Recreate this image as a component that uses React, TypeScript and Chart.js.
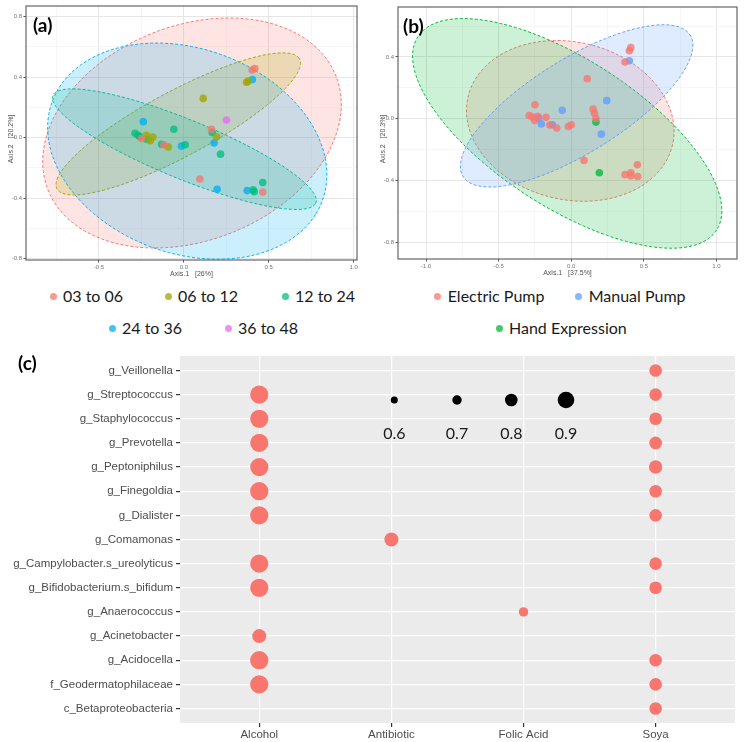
import React, { useEffect, useRef } from 'react';
import { Chart, registerables } from 'chart.js';
Chart.register(...registerables);

// ---------------- Panel (a): PCoA coloured by infant age ----------------
const ageGroups = ['03 to 06', '06 to 12', '12 to 24', '24 to 36', '36 to 48'];
const age03to06 = [[0.402, 0.447], [0.418, 0.456], [0.163, 0.055], [0.094, -0.274], [0.465, -0.36], [-0.118, -0.048], [-0.249, -0.007]];
const age06to12 = [[0.369, 0.366], [0.379, 0.373], [0.114, 0.259], [0.192, 0.004], [-0.092, -0.062], [-0.22, 0.015], [-0.198, -0.022], [-0.182, 0.004]];
const age12to24 = [[0.167, 0.033], [0.216, -0.11], [0.408, -0.345], [0.414, -0.358], [0.465, -0.297], [-0.059, 0.055], [0.008, -0.048], [-0.131, -0.044], [-0.288, 0.028], [-0.269, 0.015], [-0.22, -0.011], [-0.259, 0.005]];
const age24to36 = [[0.404, 0.384], [0.178, -0.036], [0.196, -0.342], [0.373, -0.351], [-0.239, 0.105], [-0.014, -0.057]];
const age36to48 = [[0.251, 0.116]];
// confidence ellipses: [centreX, centreY, semiMajor, semiMinor, angleDeg]
const ellipseAge03to06 = [0.048, 0.03, 0.932, 0.695, 29.8];
const ellipseAge06to12 = [-0.033, 0.09, 0.834, 0.21, 31.4];
const ellipseAge12to24 = [0.003, -0.077, 0.852, 0.192, -24.9];
const ellipseAge24to36 = [0.02, -0.09, 0.864, 0.664, -28.6];
const xMajorA = [-0.5, 0, 0.5, 1.0];
const xMinorA = [-0.75, -0.25, 0.25, 0.75];
const yMajorA = [-0.8, -0.4, 0, 0.4, 0.8];
const yMinorA = [-0.6, -0.2, 0.2, 0.6];
const xRangeA = [-0.93, 1.02];
const yRangeA = [-0.81, 0.87];
const xTitleA = 'Axis.1   [26%]';
const yTitleA = 'Axis.2   [20.2%]';

// ---------------- Panel (b): PCoA coloured by expression method ----------------
const methodGroups = ['Electric Pump', 'Manual Pump', 'Hand Expression'];
const electricPump = [[0.41, 0.46], [0.40, 0.44], [0.37, 0.367], [0.11, 0.259], [0.15, 0.062], [0.16, 0.036], [0.17, 0.002], [-0.25, 0.09], [-0.29, 0.021], [-0.268, 0.011], [-0.252, -0.011], [-0.23, 0.015], [-0.174, 0.009], [-0.147, -0.041], [-0.1, -0.06], [-0.02, -0.05], [0.0, -0.039], [0.088, -0.27], [0.37, -0.362], [0.41, -0.35], [0.41, -0.37], [0.455, -0.298], [0.457, -0.374]];
const manualPump = [[0.40, 0.375], [0.244, 0.117], [0.207, -0.1], [-0.062, 0.054], [-0.225, 0.002], [-0.206, -0.034], [-0.129, -0.039]];
const handExpression = [[0.17, -0.022], [0.193, -0.35]];
const ellipseElectric = [-0.007, -0.014, 0.721, 0.511, -11];
const ellipseHand = [-0.028, -0.095, 1.204, 0.486, -30.7];
const ellipseManual = [0.037, 0.083, 0.906, 0.309, 29.9];
const xMajorB = [-1.0, -0.5, 0, 0.5, 1.0];
const xMinorB = [-0.75, -0.25, 0.25, 0.75];
const yMajorB = [-0.8, -0.4, 0, 0.4];
const yMinorB = [-0.6, -0.2, 0.2, 0.6];
const xRangeB = [-1.193, 1.141];
const yRangeB = [-0.908, 0.723];
const xTitleB = 'Axis.1   [37.5%]';
const yTitleB = 'Axis.2   [20.3%]';

// ---------------- Panel (c): taxa associated with exposures ----------------
const taxa = ['g_Veillonella', 'g_Streptococcus', 'g_Staphylococcus', 'g_Prevotella', 'g_Peptoniphilus', 'g_Finegoldia', 'g_Dialister', 'g_Comamonas', 'g_Campylobacter.s_ureolyticus', 'g_Bifidobacterium.s_bifidum', 'g_Anaerococcus', 'g_Acinetobacter', 'g_Acidocella', 'f_Geodermatophilaceae', 'c_Betaproteobacteria'];
const exposures = ['Alcohol', 'Antibiotic', 'Folic Acid', 'Soya'];
const alcoholAssoc: [string, number][] = [['g_Streptococcus', 0.94], ['g_Staphylococcus', 0.94], ['g_Prevotella', 0.94], ['g_Peptoniphilus', 0.94], ['g_Finegoldia', 0.94], ['g_Dialister', 0.94], ['g_Campylobacter.s_ureolyticus', 0.94], ['g_Bifidobacterium.s_bifidum', 0.94], ['g_Acinetobacter', 0.835], ['g_Acidocella', 0.94], ['f_Geodermatophilaceae', 0.94]];
const antibioticAssoc: [string, number][] = [['g_Comamonas', 0.835]];
const folicAcidAssoc: [string, number][] = [['g_Anaerococcus', 0.7]];
const soyaAssoc: [string, number][] = [['g_Veillonella', 0.8], ['g_Streptococcus', 0.8], ['g_Staphylococcus', 0.8], ['g_Prevotella', 0.8], ['g_Peptoniphilus', 0.82], ['g_Finegoldia', 0.8], ['g_Dialister', 0.8], ['g_Campylobacter.s_ureolyticus', 0.8], ['g_Bifidobacterium.s_bifidum', 0.8], ['g_Acidocella', 0.8], ['f_Geodermatophilaceae', 0.8], ['c_Betaproteobacteria', 0.8]];
const sizeBreaks = [0.6, 0.7, 0.8, 0.9];

// ---------------- styling ----------------
const ageColors = ['#F8766D', '#A3A500', '#00BF7D', '#00B0F6', '#E76BF3'];
const methodColors = ['#F8766D', '#619CFF', '#00BA38'];
const sizeRadii = [3.5, 4.7, 6.3, 8.3];
const LEGEND_FONT = 'Lato, "Open Sans", sans-serif';

function rgba(hex: string, a: number) {
  const n = parseInt(hex.slice(1), 16);
  return `rgba(${(n >> 16) & 255},${(n >> 8) & 255},${n & 255},${a})`;
}
function radiusFor(v: number) {
  const b = sizeBreaks, r = sizeRadii;
  let i = 0;
  while (i < b.length - 2 && v > b[i + 1]) i++;
  return r[i] + ((v - b[i]) / (b[i + 1] - b[i])) * (r[i + 1] - r[i]);
}
const near = (v: number, arr: number[]) => arr.some((m) => Math.abs(m - v) < 1e-9);

function makeEllipsePlugin(items: { p: number[]; color: string }[]) {
  return {
    id: 'ellipses',
    beforeDatasetsDraw(chart: any) {
      const { ctx, chartArea, scales } = chart;
      ctx.save();
      ctx.beginPath();
      ctx.rect(chartArea.left, chartArea.top, chartArea.width, chartArea.height);
      ctx.clip();
      for (const it of items) {
        const [cx, cy, a, b, ang] = it.p;
        const th = (ang * Math.PI) / 180;
        ctx.beginPath();
        for (let i = 0; i <= 240; i++) {
          const t = (i / 240) * Math.PI * 2;
          const dx = a * Math.cos(t) * Math.cos(th) - b * Math.sin(t) * Math.sin(th);
          const dy = a * Math.cos(t) * Math.sin(th) + b * Math.sin(t) * Math.cos(th);
          const px = scales.x.getPixelForValue(cx + dx);
          const py = scales.y.getPixelForValue(cy + dy);
          if (i === 0) ctx.moveTo(px, py); else ctx.lineTo(px, py);
        }
        ctx.closePath();
        ctx.fillStyle = rgba(it.color, 0.2);
        ctx.fill();
        ctx.setLineDash([3, 2]);
        ctx.lineWidth = 1;
        ctx.strokeStyle = it.color;
        ctx.stroke();
      }
      ctx.restore();
    },
  };
}

function makeFramePlugin(xTitle: string, yTitle: string) {
  return {
    id: 'frame',
    afterDraw(chart: any) {
      const { ctx, chartArea: ca } = chart;
      ctx.save();
      ctx.strokeStyle = '#666666';
      ctx.lineWidth = 1.2;
      ctx.setLineDash([]);
      ctx.strokeRect(ca.left, ca.top, ca.right - ca.left, ca.bottom - ca.top);
      ctx.fillStyle = '#555555';
      ctx.font = '7px "Liberation Sans", Arial, sans-serif';
      ctx.textAlign = 'center';
      ctx.textBaseline = 'middle';
      ctx.fillText(xTitle, (ca.left + ca.right) / 2, ca.bottom + 14);
      ctx.translate(ca.left - 15, (ca.top + ca.bottom) / 2 + 6);
      ctx.rotate(-Math.PI / 2);
      ctx.fillText(yTitle, 0, 0);
      ctx.restore();
    },
  };
}

function pcoaConfig(opts: {
  groups: number[][][]; colors: string[]; ellipses: { p: number[]; color: string }[];
  xr: number[]; yr: number[]; xMaj: number[]; xMin: number[]; yMaj: number[]; yMin: number[];
  pad: any; xTitle: string; yTitle: string; labels: string[];
}) {
  const axis = (maj: number[], min: number[], range: number[], isX: boolean) => ({
    type: 'linear',
    min: range[0],
    max: range[1],
    afterBuildTicks: (s: any) => {
      s.ticks = [...maj, ...min].sort((a, b) => a - b).map((v) => ({ value: v }));
    },
    afterFit: (s: any) => {
      if (isX) s.height = 15; else s.width = 22;
    },
    border: { display: false },
    grid: {
      color: (c: any) => (c.tick && near(c.tick.value, maj) ? '#E6E6E6' : '#F2F2F2'),
      lineWidth: (c: any) => (c.tick && near(c.tick.value, maj) ? 1 : 0.7),
      tickColor: (c: any) => (c.tick && near(c.tick.value, maj) ? '#555555' : 'rgba(0,0,0,0)'),
      tickLength: 2.5,
    },
    ticks: {
      autoSkip: false,
      maxRotation: 0,
      padding: 1.5,
      color: '#777777',
      font: { size: 6, family: '"Liberation Sans", Arial, sans-serif' },
      callback: (v: number) => (near(v, maj) ? v.toFixed(1) : ''),
    },
  });
  return {
    type: 'scatter',
    data: {
      datasets: opts.groups.map((g, i) => ({
        label: opts.labels[i],
        data: g.map(([x, y]) => ({ x, y })),
        backgroundColor: rgba(opts.colors[i], 0.78),
        borderWidth: 0,
        pointRadius: 3.8,
      })),
    },
    options: {
      animation: false,
      responsive: false,
      events: [],
      layout: { padding: opts.pad },
      plugins: { legend: { display: false }, tooltip: { enabled: false } },
      scales: {
        x: axis(opts.xMaj, opts.xMin, opts.xr, true),
        y: axis(opts.yMaj, opts.yMin, opts.yr, false),
      },
    },
    plugins: [makeEllipsePlugin(opts.ellipses), makeFramePlugin(opts.xTitle, opts.yTitle)],
  };
}

const panelBgPlugin = {
  id: 'panelBg',
  beforeDraw(chart: any) {
    const { ctx, chartArea: ca } = chart;
    ctx.save();
    ctx.fillStyle = '#EBEBEB';
    ctx.fillRect(ca.left, ca.top, ca.right - ca.left, ca.bottom - ca.top);
    ctx.restore();
  },
};

const sizeLegendPlugin = {
  id: 'sizeLegend',
  afterDatasetsDraw(chart: any) {
    const { ctx } = chart;
    const xs = [394.3, 457, 511.3, 566];
    const yDot = 60;
    ctx.save();
    sizeBreaks.forEach((v, i) => {
      ctx.beginPath();
      ctx.arc(xs[i], yDot, radiusFor(v), 0, Math.PI * 2);
      ctx.fillStyle = '#000000';
      ctx.fill();
      ctx.fillStyle = '#1A1A1A';
      ctx.font = '16px ' + LEGEND_FONT;
      ctx.textAlign = 'center';
      ctx.textBaseline = 'middle';
      ctx.fillText(v.toFixed(1), xs[i], 94);
    });
    ctx.restore();
  },
};

function dotConfig() {
  const all: [string, number][][] = [alcoholAssoc, antibioticAssoc, folicAcidAssoc, soyaAssoc];
  const pts: { x: number; y: number; v: number }[] = [];
  all.forEach((list, xi) => list.forEach(([t, v]) => pts.push({ x: xi, y: taxa.indexOf(t), v })));
  const font = { size: 11.5, family: '"Liberation Sans", Arial, sans-serif' };
  return {
    type: 'scatter',
    data: {
      datasets: [{
        label: 'assoc',
        data: pts,
        backgroundColor: '#F8766D',
        borderWidth: 0,
        pointRadius: (c: any) => radiusFor(c.raw ? c.raw.v : 0.8),
      }],
    },
    options: {
      animation: false,
      responsive: false,
      events: [],
      layout: { padding: { left: 0, right: 9, top: 16, bottom: 0 } },
      plugins: { legend: { display: false }, tooltip: { enabled: false } },
      scales: {
        x: {
          type: 'linear', min: -0.6, max: exposures.length - 0.4,
          afterBuildTicks: (s: any) => { s.ticks = exposures.map((_, i) => ({ value: i })); },
          afterFit: (s: any) => { s.height = 19; },
          border: { display: false },
          grid: { color: '#FFFFFF', lineWidth: 1.2, tickColor: '#333333', tickLength: 4 },
          ticks: { autoSkip: false, maxRotation: 0, padding: 1, color: '#4D4D4D', font, callback: (v: number) => exposures[Math.round(v)] },
        },
        y: {
          type: 'linear', min: -0.6, max: taxa.length - 0.4, reverse: true,
          afterBuildTicks: (s: any) => { s.ticks = taxa.map((_, i) => ({ value: i })); },
          afterFit: (s: any) => { s.width = 180; },
          border: { display: false },
          grid: { color: '#FFFFFF', lineWidth: 1.2, tickColor: '#333333', tickLength: 4 },
          ticks: { autoSkip: false, padding: 3, color: '#4D4D4D', font, callback: (v: number) => taxa[Math.round(v)] },
        },
      },
    },
    plugins: [panelBgPlugin, sizeLegendPlugin],
  };
}

function ChartBox({ left, top, width, height, make }: { left: number; top: number; width: number; height: number; make: () => any }) {
  const ref = useRef<HTMLCanvasElement | null>(null);
  useEffect(() => {
    if (!ref.current) return;
    const chart = new Chart(ref.current, make());
    return () => chart.destroy();
  }, []);
  return (
    <canvas ref={ref} width={width} height={height}
      style={{ position: 'absolute', left, top, width, height }} />
  );
}

function LegendItem({ x, y, color, label }: { x: number; y: number; color: string; label: string }) {
  return (
    <>
      <span style={{ position: 'absolute', left: x - 3.5, top: y - 3.5, width: 7, height: 7, borderRadius: '50%', background: rgba(color, 0.75) }} />
      <span style={{ position: 'absolute', left: x + 10, top: y - 10, height: 20, lineHeight: '20px', fontFamily: LEGEND_FONT, fontSize: 16, color: '#1A1A1A', whiteSpace: 'nowrap' }}>{label}</span>
    </>
  );
}

const legendSlotsA = [[53, 296], [168, 296], [285, 296], [112, 328], [228, 328]];
const legendSlotsB = [[437.7, 296], [578.7, 296], [499, 328]];

function PanelLabel({ x, y, text }: { x: number; y: number; text: string }) {
  return (
    <span style={{ position: 'absolute', left: x, top: y, fontFamily: LEGEND_FONT, fontWeight: 700, fontSize: 19, lineHeight: '20px', color: '#000' }}>{text}</span>
  );
}

export default function App() {
  return (
    <div style={{ position: 'absolute', left: 0, top: 0, width: 744, height: 742, background: '#FFFFFF', overflow: 'hidden' }}>
      <ChartBox left={0} top={0} width={370} height={282} make={() => pcoaConfig({
        groups: [age03to06, age06to12, age12to24, age24to36, age36to48],
        colors: ageColors,
        labels: ageGroups,
        ellipses: [
          { p: ellipseAge03to06, color: ageColors[0] },
          { p: ellipseAge06to12, color: ageColors[1] },
          { p: ellipseAge12to24, color: ageColors[2] },
          { p: ellipseAge24to36, color: ageColors[3] },
        ],
        xr: xRangeA, yr: yRangeA, xMaj: xMajorA, xMin: xMinorA, yMaj: yMajorA, yMin: yMinorA,
        pad: { left: 4, right: 13, top: 6, bottom: 7 },
        xTitle: xTitleA, yTitle: yTitleA,
      })} />
      <ChartBox left={370} top={0} width={374} height={282} make={() => pcoaConfig({
        groups: [electricPump, manualPump, handExpression],
        colors: methodColors,
        labels: methodGroups,
        ellipses: [
          { p: ellipseElectric, color: methodColors[0] },
          { p: ellipseHand, color: methodColors[2] },
          { p: ellipseManual, color: methodColors[1] },
        ],
        xr: xRangeB, yr: yRangeB, xMaj: xMajorB, xMin: xMinorB, yMaj: yMajorB, yMin: yMinorB,
        pad: { left: 6, right: 7, top: 7, bottom: 8 },
        xTitle: xTitleB, yTitle: yTitleB,
      })} />
      <ChartBox left={0} top={340} width={744} height={402} make={dotConfig} />
      {ageGroups.map((g, i) => (
        <LegendItem key={g} x={legendSlotsA[i][0]} y={legendSlotsA[i][1]} color={ageColors[i]} label={g} />
      ))}
      {methodGroups.map((g, i) => (
        <LegendItem key={g} x={legendSlotsB[i][0]} y={legendSlotsB[i][1]} color={methodColors[i]} label={g} />
      ))}
      <PanelLabel x={33} y={15} text="(a)" />
      <PanelLabel x={403} y={16} text="(b)" />
      <PanelLabel x={18} y={353} text="(c)" />
    </div>
  );
}
